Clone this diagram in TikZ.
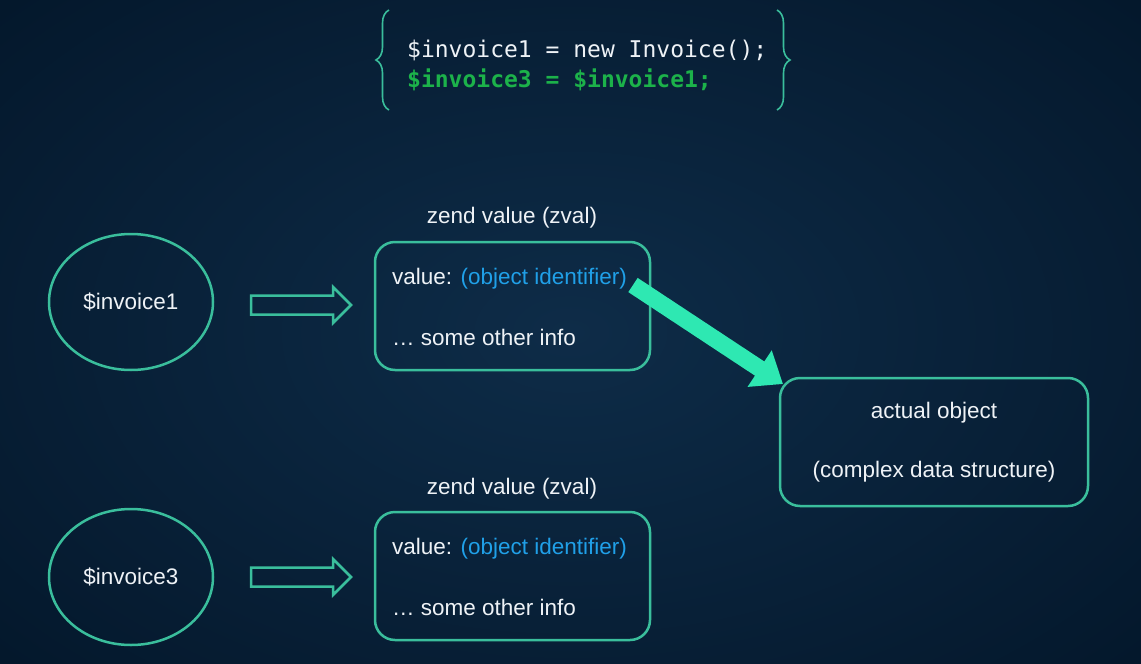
\documentclass[tikz,border=0pt]{standalone}
\usepackage{fontspec}
\setmainfont{Liberation Sans}
\newfontfamily\codefont{DejaVu Sans Mono}
\usetikzlibrary{shapes.geometric,arrows.meta,decorations.pathreplacing}
\definecolor{bgin}{RGB}{14,44,72}
\definecolor{bgout}{RGB}{4,24,44}
\definecolor{teal}{RGB}{58,190,156}
\definecolor{mint}{RGB}{46,232,178}
\definecolor{codegreen}{RGB}{28,178,74}
\definecolor{idblue}{RGB}{32,160,232}
\definecolor{txt}{RGB}{238,242,246}
\tikzset{
  lbl/.style={font=\fontsize{22.5}{27}\selectfont, text=txt, inner sep=0pt},
  code/.style={font=\codefont\fontsize{23}{28}\selectfont, inner sep=0pt, anchor=base west},
  var/.style={ellipse, draw=teal, line width=2.5pt, minimum width=164pt, minimum height=136pt, lbl},
  zbox/.style={rectangle, rounded corners=20pt, draw=teal, line width=2.5pt, minimum width=275pt, minimum height=128pt},
  hollow/.style={draw=teal, line width=2.5pt, line join=miter},
  bigarrow/.style={draw=mint, line width=17pt, -{Triangle[length=28pt,width=42pt]}},
  bracestyle/.style={draw=teal, line width=1.6pt, decorate, decoration={brace, amplitude=13pt}}
}
\begin{document}
\begin{tikzpicture}[x=1pt,y=-1pt]
\useasboundingbox (0,0) rectangle (1141,664);
\shade[inner color=bgin, outer color=bgout] (-200,-150) rectangle (1341,814);
% code
\coordinate (lb1) at (389,110); \coordinate (lb2) at (389,10);
\coordinate (rb1) at (777,10); \coordinate (rb2) at (777,110);
\draw[bracestyle] (lb1) -- (lb2);
\draw[bracestyle] (rb1) -- (rb2);
\node[code, text=txt] (c1) at (407,57) {\$invoice1 = new Invoice();};
\node[code, text=codegreen] (c2) at (407,87) {\bfseries \$invoice3 = \$invoice1;};
% variables
\node[var] (v1) at (131,302) {\$invoice1};
\node[var] (v3) at (131,577) {\$invoice3};
% hollow arrows
\coordinate (h1) at (300,305);
\coordinate (h3) at (300,577);
\foreach \h in {h1,h3}{
  \draw[hollow] ([shift={(-49,-9.5)}]\h) -- ([shift={(33,-9.5)}]\h) -- ([shift={(33,-18)}]\h) -- ([shift={(51,0)}]\h) -- ([shift={(33,18)}]\h) -- ([shift={(33,9.5)}]\h) -- ([shift={(-49,9.5)}]\h) -- cycle;
}
% zval boxes
\node[lbl] (z1l) at (512,218) {zend value (zval)};
\node[zbox] (z1) at (512.5,306) {};
\node[lbl, anchor=west] (z1a) at (392,279) {value: \textcolor{idblue}{(object identifier)}};
\node[lbl, anchor=west] (z1b) at (392,337) {… some other info};
\node[lbl] (z3l) at (512,489) {zend value (zval)};
\node[zbox] (z3) at (512.5,576) {};
\node[lbl, anchor=west] (z3a) at (392,549) {value: \textcolor{idblue}{(object identifier)}};
\node[lbl, anchor=west] (z3b) at (392,607) {… some other info};
% actual object
\node[zbox, minimum width=308pt, minimum height=128pt] (obj) at (934,442) {};
\node[lbl] (o1) at (934,413) {actual object};
\node[lbl] (o2) at (934,472) {(complex data structure)};
% big arrow
\coordinate (ta) at (z1a.east);
\coordinate (tt) at (633,285);
\coordinate (tp) at (783,384);
\draw[bigarrow] (tt) -- (tp);
\end{tikzpicture}
\end{document}
